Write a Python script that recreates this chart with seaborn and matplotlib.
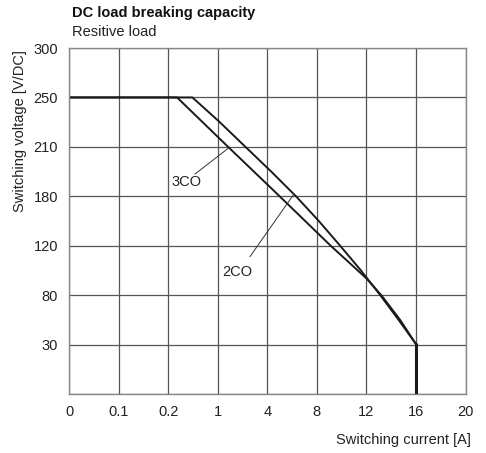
import matplotlib
import matplotlib.pyplot as plt
import pandas as pd
import seaborn as sns

matplotlib.use("Agg")

# --- DATA (positions on the evenly spaced grid, tick index units) ---
X_TICKS = ["0", "0.1", "0.2", "1", "4", "8", "12", "16", "20"]
Y_TICKS = ["", "30", "80", "120", "180", "210", "250", "300"]

CO3_X = [0.0, 2.18, 3.21, 4.25, 5.28, 6.00, 6.30, 6.68, 7.00, 7.00]
CO3_Y = [6.0, 6.00, 5.00, 4.00, 3.00, 2.34, 2.00, 1.50, 1.01, 0.00]

CO2_X = [0.0, 2.49, 3.02, 3.56, 4.08, 4.58, 5.04, 5.47, 5.89, 6.28, 6.65, 7.00, 7.00]
CO2_Y = [6.0, 6.00, 5.52, 5.00, 4.50, 4.00, 3.50, 3.00, 2.50, 2.00, 1.50, 1.01, 0.00]

FONT = ["Liberation Sans", "DejaVu Sans"]


def build_frame():
    a = pd.DataFrame({"x": CO3_X, "y": CO3_Y, "curve": "3CO"})
    b = pd.DataFrame({"x": CO2_X, "y": CO2_Y, "curve": "2CO"})
    return pd.concat([a, b], ignore_index=True)


def main():
    sns.set_theme(style="white")
    plt.rcParams["font.family"] = FONT

    fig = plt.figure(figsize=(4.86, 4.53), dpi=100)
    ax = fig.add_axes([0.142, 0.130, 0.816, 0.764])

    df = build_frame()
    sns.lineplot(data=df, x="x", y="y", units="curve", estimator=None, sort=False,
                 color="#1a1a1a", linewidth=1.4, ax=ax, legend=False)
    # thicker cut-off at 16 A
    ax.plot([7, 7], [0, 1.01], color="#1a1a1a", linewidth=2.2, zorder=3)

    ax.set_xlim(0, len(X_TICKS) - 1)
    ax.set_ylim(0, len(Y_TICKS) - 1)
    ax.set_xticks(range(len(X_TICKS)))
    ax.set_xticklabels(X_TICKS)
    ax.set_yticks(range(len(Y_TICKS)))
    ax.set_yticklabels(Y_TICKS)
    ax.tick_params(length=0, labelsize=10.5, colors="#222222", pad=8)
    ax.grid(True, color="#555555", linewidth=0.9)
    for s in ax.spines.values():
        s.set_color("#888888")
        s.set_linewidth(1.0)
    ax.set_xlabel("")
    ax.set_ylabel("")

    # curve labels with leader lines
    ax.plot([3.21, 2.54], [4.97, 4.45], color="#333333", linewidth=0.7)
    ax.text(2.36, 4.30, "3CO", fontsize=10.5, ha="center", va="center", color="#222222")
    ax.plot([4.54, 3.65], [4.05, 2.78], color="#333333", linewidth=0.7)
    ax.text(3.40, 2.46, "2CO", fontsize=10.5, ha="center", va="center", color="#222222")

    fig.text(72 / 486, 1 - 13 / 453, "DC load breaking capacity", fontsize=10.5,
             fontweight="bold", ha="left", va="center", color="#111111")
    fig.text(72 / 486, 1 - 32 / 453, "Resitive load", fontsize=10.5,
             ha="left", va="center", color="#222222")
    fig.text(20 / 486, 1 - 50 / 453, "Switching voltage [V/DC]", fontsize=10.5,
             rotation=90, ha="center", va="top", color="#222222")
    fig.text(471 / 486, 1 - 440 / 453, "Switching current [A]", fontsize=10.5,
             ha="right", va="center", color="#222222")

    fig.savefig("out.png", dpi=100)
    plt.close(fig)


if __name__ == "__main__":
    main()
